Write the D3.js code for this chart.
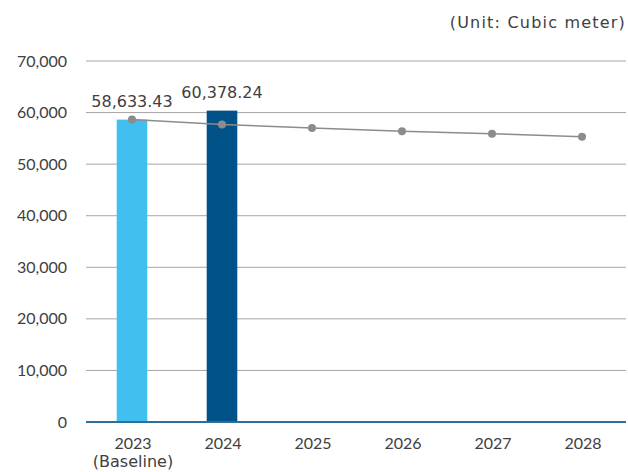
<!DOCTYPE html>
<html>
<head>
<meta charset="utf-8">
<script src="https://cdn.jsdelivr.net/npm/d3@7"></script>
<style>
  body { margin: 0; background: #fff; }
  text { font-family: "Lato", "DejaVu Sans", sans-serif; fill: #404040; }
  .wide { font-family: "DejaVu Sans", sans-serif; }
</style>
</head>
<body>
<div id="chart"></div>
<script>
let svgWidth = 628;
let svgHeight = 472;
let margin = { top: 61, right: 2, bottom: 50, left: 86 };
let width = svgWidth - margin.left - margin.right;
let height = svgHeight - margin.top - margin.bottom;

// Data

let years = ["2023", "2024", "2025", "2026", "2027", "2028"];
let barValues = [58633.43, 60378.24, null, null, null, null];
let barLabels = ["58,633.43", "60,378.24", "", "", "", ""];
let targetValues = [58633.43, 57700, 57000, 56400, 55900, 55300];
let barColors = ["#41bfef", "#005288"];
let yTicks = [0, 10000, 20000, 30000, 40000, 50000, 60000, 70000];

let svg = d3.select("#chart").append("svg").attr("width", svgWidth).attr("height", svgHeight);
let chartGroup = svg.append("g").attr("transform", `translate(${margin.left}, ${margin.top})`);

let xScale = d3.scaleBand().domain(years).range([0, width]).paddingInner(0.66).paddingOuter(0.33);
let xPoint = d => xScale(d) + xScale.bandwidth() / 2;
let yScale = d3.scaleLinear().domain([0, 70000]).range([height, 0]);

// Unit label
svg.append("text")
  .attr("class", "wide")
  .attr("x", svgWidth - 2)
  .attr("y", 28)
  .attr("text-anchor", "end")
  .style("font-size", "16px")
  .style("letter-spacing", "1.2px")
  .text("(Unit: Cubic meter)");

// Gridlines
chartGroup.append("g")
  .selectAll("line")
  .data(yTicks.filter(d => d > 0))
  .enter()
  .append("line")
  .attr("x1", 0)
  .attr("x2", width)
  .attr("y1", d => yScale(d))
  .attr("y2", d => yScale(d))
  .attr("stroke", "#a6a6a6")
  .attr("stroke-width", 1);

// Y axis
let yAxis = chartGroup.append("g")
  .call(d3.axisLeft(yScale).tickValues(yTicks).tickSize(0).tickPadding(19).tickFormat(d3.format(",")));
yAxis.select(".domain").remove();
yAxis.selectAll("text").style("font-size", "16px").attr("fill", "#404040");

// Bars
chartGroup.selectAll("rect.bar")
  .data(years.map((y, i) => ({ year: y, value: barValues[i], label: barLabels[i], color: barColors[i] })).filter(d => d.value != null))
  .enter()
  .append("rect")
  .attr("class", "bar")
  .attr("x", d => xScale(d.year) + 1)
  .attr("y", d => yScale(d.value))
  .attr("width", xScale.bandwidth())
  .attr("height", d => height - yScale(d.value))
  .attr("fill", d => d.color);

// Bar labels
chartGroup.selectAll("text.barlabel")
  .data(years.map((y, i) => ({ year: y, value: barValues[i], label: barLabels[i] })).filter(d => d.value != null))
  .enter()
  .append("text")
  .attr("class", "barlabel wide")
  .attr("x", d => xPoint(d.year) + 1)
  .attr("y", d => yScale(d.value) - 13)
  .attr("text-anchor", "middle")
  .style("font-size", "16px")
  .text(d => d.label);

// Target line
let lineData = years.map((y, i) => ({ year: y, value: targetValues[i] }));
chartGroup.append("path")
  .datum(lineData)
  .attr("fill", "none")
  .attr("stroke", "#8c8c8c")
  .attr("stroke-width", 1.5)
  .attr("d", d3.line().x(d => xPoint(d.year) + 1).y(d => yScale(d.value)));

chartGroup.selectAll("circle")
  .data(lineData)
  .enter()
  .append("circle")
  .attr("cx", d => xPoint(d.year) + 1)
  .attr("cy", d => yScale(d.value))
  .attr("r", 4)
  .attr("fill", "#8c8c8c");

// X axis baseline
chartGroup.append("line")
  .attr("x1", 0)
  .attr("x2", width)
  .attr("y1", height)
  .attr("y2", height)
  .attr("stroke", "#2a6f9e")
  .attr("stroke-width", 2);

// X labels
chartGroup.append("g")
  .selectAll("text")
  .data(years)
  .enter()
  .append("text")
  .attr("x", d => xPoint(d) + 2)
  .attr("y", height + 27)
  .attr("text-anchor", "middle")
  .style("font-size", "16px")
  .text(d => d);

chartGroup.append("text")
  .attr("class", "wide")
  .attr("x", xPoint("2023") + 2)
  .attr("y", height + 45)
  .attr("text-anchor", "middle")
  .style("font-size", "16px")
  .text("(Baseline)");
</script>
</body>
</html>
